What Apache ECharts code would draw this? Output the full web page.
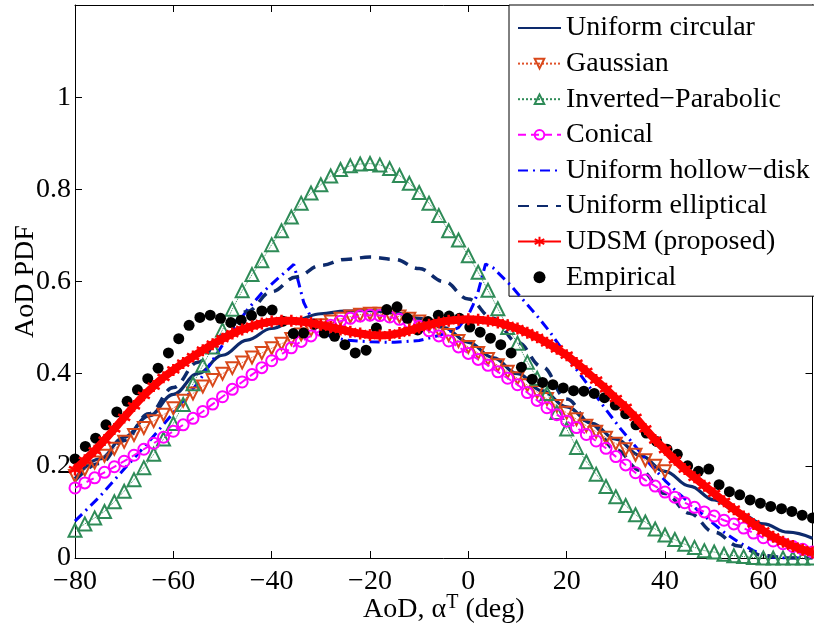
<!DOCTYPE html>
<html>
<head>
<meta charset="utf-8">
<script src="https://cdn.jsdelivr.net/npm/echarts@6/dist/echarts.min.js"></script>
<style>
  html, body { margin: 0; padding: 0; background: #fff; }
  #chart { width: 814px; height: 626px; }
</style>
</head>
<body>
<div id="chart"></div>
<script>
// Angle grids (deg)
const angleFine = [-80,-78,-76,-74,-72,-70,-68,-66,-64,-62,-60,-58,-56,-54,-52,-50,-48,-46,-44,-42,-40,-38,-36,-34,-32,-30,-28,-26,-24,-22,-20,-18,-16,-14,-12,-10,-8,-6,-4,-2,0,2,4,6,8,10,12,14,16,18,20,22,24,26,28,30,32,34,36,38,40,42,44,46,48,50,52,54,56,58,60,62,64,66,68,70];
const angleCoarse = [-80,-75,-70,-65,-60,-55,-50,-45,-40,-35,-30,-25,-20,-15,-10,-5,0,5,10,15,20,25,30,35,40,45,50,55,60,65,70];
const angleGauss = [-80,-78,-76,-74,-72,-70,-68,-66,-64,-62,-60,-58,-56,-54,-52,-50,-48,-46,-44,-42,-40,-38,-36,-34,-32,-30,-28,-26,-24,-22,-20,-18,-16,-14,-12,-10,-8,-6,-4,-2,0,2,4,6,8,10,12,14,16,18,20,22,24,26,28,30,32,34,36,38,40];

// Model PDFs
const uniformCircular = [0.172,0.215,0.262,0.308,0.355,0.400,0.440,0.473,0.498,0.517,0.530,0.536,0.537,0.532,0.520,0.500,0.468,0.435,0.400,0.363,0.328,0.293,0.258,0.222,0.188,0.156,0.126,0.098,0.074,0.056,0.043];

const gaussian = [0.178,0.192,0.207,0.222,0.237,0.252,0.267,0.282,0.297,0.311,0.325,0.341,0.357,0.372,0.386,0.400,0.412,0.424,0.435,0.445,0.455,0.465,0.475,0.485,0.495,0.505,0.513,0.519,0.524,0.528,0.530,0.530,0.528,0.524,0.519,0.513,0.504,0.495,0.484,0.471,0.458,0.445,0.432,0.418,0.404,0.390,0.375,0.360,0.345,0.330,0.315,0.301,0.287,0.274,0.261,0.248,0.236,0.224,0.212,0.200,0.188];

const invertedParabolic = [0.060,0.074,0.087,0.101,0.122,0.145,0.170,0.196,0.225,0.258,0.292,0.333,0.378,0.418,0.458,0.495,0.540,0.580,0.615,0.645,0.680,0.710,0.740,0.770,0.792,0.810,0.829,0.843,0.851,0.855,0.856,0.853,0.845,0.830,0.813,0.793,0.770,0.743,0.710,0.690,0.656,0.620,0.581,0.541,0.500,0.466,0.425,0.390,0.357,0.316,0.280,0.240,0.209,0.182,0.155,0.133,0.114,0.094,0.078,0.063,0.050,0.040,0.030,0.023,0.016,0.013,0.008,0.005,0.003,0.001,0,0,0,0,0,0];

const conical = [0.152,0.163,0.174,0.186,0.198,0.210,0.223,0.236,0.249,0.262,0.275,0.289,0.303,0.318,0.334,0.350,0.366,0.382,0.398,0.413,0.428,0.442,0.456,0.470,0.482,0.494,0.505,0.514,0.520,0.525,0.527,0.526,0.523,0.518,0.511,0.503,0.493,0.482,0.471,0.458,0.444,0.431,0.418,0.404,0.390,0.376,0.359,0.342,0.326,0.311,0.297,0.283,0.268,0.254,0.238,0.220,0.202,0.185,0.169,0.156,0.143,0.132,0.120,0.110,0.100,0.091,0.082,0.074,0.065,0.054,0.044,0.037,0.031,0.025,0.019,0.013];

const hollowDiskAngle = [-80,-75,-70,-65,-60,-55,-50,-45,-42,-39,-35.5,-34.5,-33.5,-32,-30.5,-28,-25,-20,-15,-10,-7,-4.5,-2,0,1,2,3.5,5,8.5,11,14,16.5,19,22,25,28,31,34,37,40,43,46,49,52,55,58,61,63,70];
const hollowDisk = [0.080,0.133,0.193,0.252,0.315,0.380,0.462,0.538,0.575,0.604,0.637,0.597,0.555,0.522,0.496,0.481,0.473,0.469,0.468,0.472,0.480,0.488,0.500,0.527,0.550,0.578,0.638,0.630,0.593,0.562,0.525,0.492,0.454,0.409,0.366,0.322,0.280,0.242,0.203,0.168,0.138,0.110,0.082,0.056,0.034,0.016,0.004,0,0];

const uniformElliptical = [0.168,0.205,0.255,0.313,0.370,0.425,0.483,0.535,0.578,0.610,0.635,0.648,0.653,0.648,0.628,0.600,0.562,0.520,0.468,0.415,0.345,0.290,0.235,0.190,0.140,0.097,0.056,0.026,0.005,0,0];

const udsm = [0.192,0.212,0.233,0.256,0.280,0.305,0.330,0.353,0.373,0.392,0.408,0.423,0.437,0.451,0.464,0.476,0.487,0.496,0.503,0.509,0.513,0.515,0.515,0.513,0.510,0.506,0.501,0.496,0.491,0.487,0.484,0.483,0.484,0.488,0.494,0.500,0.506,0.511,0.515,0.517,0.518,0.517,0.515,0.511,0.505,0.498,0.489,0.479,0.467,0.454,0.440,0.423,0.405,0.386,0.367,0.346,0.327,0.305,0.280,0.256,0.235,0.213,0.193,0.175,0.157,0.140,0.123,0.106,0.090,0.074,0.059,0.046,0.035,0.026,0.018,0.012];

// Measured samples
const empiricalAngle = [-80.0,-77.9,-75.8,-73.7,-71.5,-69.4,-67.3,-65.2,-63.1,-61.0,-58.9,-56.8,-54.6,-52.5,-50.4,-48.3,-46.2,-44.1,-42.0,-39.9,-37.7,-35.6,-33.5,-31.4,-29.3,-27.2,-25.1,-23.0,-20.8,-18.7,-16.6,-14.5,-12.4,-10.3,-8.2,-6.1,-3.9,-1.8,0.3,2.4,4.5,6.6,8.7,10.8,13.0,15.1,17.2,19.3,21.4,23.5,25.6,27.7,29.9,32.0,34.1,36.2,38.3,40.4,42.5,44.6,46.8,48.9,51.0,53.1,55.2,57.3,59.4,61.5,63.7,65.8,67.9,70.0];
const empirical = [0.215,0.242,0.260,0.289,0.317,0.340,0.365,0.389,0.412,0.445,0.476,0.505,0.522,0.527,0.520,0.511,0.516,0.526,0.536,0.538,0.514,0.487,0.488,0.507,0.488,0.481,0.463,0.445,0.451,0.499,0.539,0.545,0.520,0.495,0.513,0.527,0.525,0.520,0.501,0.490,0.477,0.463,0.445,0.414,0.388,0.381,0.376,0.369,0.363,0.362,0.357,0.348,0.332,0.313,0.289,0.271,0.253,0.236,0.225,0.200,0.188,0.193,0.159,0.144,0.137,0.126,0.119,0.112,0.107,0.101,0.093,0.087];

// Axis ticks
const xTicks = { min: -80, max: 70, step: 20 };
const yTicks = { min: 0, max: 1.2, step: 0.2 };

const pairs = (xs, ys) => xs.map((x, i) => [x, ys[i]]);
const SERIF = "'Liberation Serif', 'Times New Roman', 'DejaVu Serif', serif";
const NAVY = '#0d2a6c';
const ASTERISK = 'path://M0,-6L0,6M-5.2,-3L5.2,3M-5.2,3L5.2,-3';
const minus = s => String(s).replace('-', '\u2212');

// Plain lines: keep a symbol type for the legend but make it invisible
const hiddenSymbol = { symbol: 'circle', showSymbol: false };

const chart = echarts.init(document.getElementById('chart'), null, { renderer: 'canvas' });

const baseX = {
  type: 'value', min: xTicks.min, max: xTicks.max, interval: xTicks.step,
  splitLine: { show: false },
  axisLine: { onZero: false, lineStyle: { color: '#000', width: 1 } },
  axisTick: { inside: true, length: 7, lineStyle: { color: '#000' } }
};
const baseY = {
  type: 'value', min: yTicks.min, max: yTicks.max, interval: yTicks.step,
  splitLine: { show: false },
  axisLine: { onZero: false, lineStyle: { color: '#000', width: 1 } },
  axisTick: { inside: true, length: 7, lineStyle: { color: '#000' } }
};

chart.setOption({
  backgroundColor: '#fff',
  animation: false,
  textStyle: { fontFamily: SERIF },
  grid: { left: 75, right: 1.5, top: 5, bottom: 68, containLabel: false, outerBoundsMode: 'none' },
  xAxis: [
    Object.assign({}, baseX, {
      position: 'bottom',
      name: '{t|AoD, \u03b1}{s|T}{t| (deg)}',
      nameLocation: 'middle',
      nameGap: 35,
      nameMoveOverlap: false,
      nameTextStyle: {
        rich: {
          t: { fontFamily: SERIF, fontSize: 28, color: '#000', lineHeight: 34 },
          s: { fontFamily: SERIF, fontSize: 20, color: '#000', verticalAlign: 'top', lineHeight: 20 }
        }
      },
      axisLabel: {
        fontFamily: SERIF, fontSize: 28, color: '#000', margin: 10, hideOverlap: false,
        formatter: v => (v === xTicks.max ? '' : minus(v))
      }
    }),
    Object.assign({}, baseX, { position: 'top', axisLabel: { show: false } })
  ],
  yAxis: [
    Object.assign({}, baseY, {
      position: 'left',
      name: 'AoD PDF',
      nameLocation: 'middle',
      nameGap: 35,
      nameMoveOverlap: false,
      nameRotate: 90,
      nameTextStyle: { fontFamily: SERIF, fontSize: 28, color: '#000' },
      axisLabel: {
        fontFamily: SERIF, fontSize: 28, color: '#000', margin: 4, hideOverlap: false,
        formatter: v => (v > 1.1 ? '' : String(Math.round(v * 10) / 10))
      }
    }),
    Object.assign({}, baseY, { position: 'right', axisLabel: { show: false } })
  ],
  legend: {
    orient: 'vertical',
    left: 509, top: 5,
    padding: [9, 5, 5, 8],
    itemGap: 7.6,
    itemWidth: 43,
    itemHeight: 12,
    backgroundColor: '#fff',
    borderColor: '#000',
    borderWidth: 1,
    borderRadius: 0,
    textStyle: { fontFamily: SERIF, fontSize: 28, color: '#000', lineHeight: 28 },
    data: ['Uniform circular', 'Gaussian', 'Inverted\u2212Parabolic', 'Conical',
           'Uniform hollow\u2212disk', 'Uniform elliptical', 'UDSM (proposed)', 'Empirical']
  },
  series: [
    Object.assign({
      name: 'Uniform circular', type: 'line', z: 3,
      data: pairs(angleCoarse, uniformCircular),
      smooth: 0.4, smoothMonotone: 'x',
      lineStyle: { color: NAVY, width: 3.2 }, itemStyle: { color: NAVY, opacity: 0 }
    }, hiddenSymbol),
    {
      name: 'Gaussian', type: 'line', z: 4,
      data: pairs(angleGauss, gaussian),
      symbol: 'triangle', symbolRotate: 180, symbolSize: 12, showAllSymbol: true,
      lineStyle: { color: '#e0522a', width: 1, type: 'dotted' },
      itemStyle: { color: 'rgba(0,0,0,0)', borderColor: '#d9481a', borderWidth: 2 }
    },
    {
      name: 'Inverted\u2212Parabolic', type: 'line', z: 4,
      data: pairs(angleFine, invertedParabolic),
      symbol: 'triangle', symbolSize: 13, showAllSymbol: true,
      lineStyle: { color: '#2e8b57', width: 1, type: 'dotted' },
      itemStyle: { color: 'rgba(0,0,0,0)', borderColor: '#2e8b57', borderWidth: 2 }
    },
    {
      name: 'Conical', type: 'line', z: 5,
      data: pairs(angleFine, conical),
      symbol: 'circle', symbolSize: 11, showAllSymbol: true,
      lineStyle: { color: '#ff00ff', width: 2, type: [8, 5] },
      itemStyle: { color: 'rgba(0,0,0,0)', borderColor: '#ff00ff', borderWidth: 2 }
    },
    Object.assign({
      name: 'Uniform hollow\u2212disk', type: 'line', z: 4,
      data: pairs(hollowDiskAngle, hollowDisk),
      lineStyle: { color: '#0000ff', width: 3, type: [10, 5, 2, 5] },
      itemStyle: { color: '#0000ff', opacity: 0 }
    }, hiddenSymbol),
    Object.assign({
      name: 'Uniform elliptical', type: 'line', z: 4,
      data: pairs(angleCoarse, uniformElliptical),
      smooth: 0.4, smoothMonotone: 'x',
      lineStyle: { color: NAVY, width: 3.5, type: [11, 8] },
      itemStyle: { color: NAVY, opacity: 0 }
    }, hiddenSymbol),
    {
      name: 'UDSM (proposed)', type: 'line', z: 7,
      data: pairs(angleFine, udsm),
      symbol: ASTERISK, symbolSize: 12, showAllSymbol: true,
      lineStyle: { color: '#ff0000', width: 8 },
      itemStyle: { color: '#ff0000', borderColor: '#ff0000', borderWidth: 2.5 }
    },
    {
      name: 'Empirical', type: 'scatter', z: 6,
      data: pairs(empiricalAngle, empirical),
      symbol: 'circle', symbolSize: 11,
      itemStyle: { color: '#000', opacity: 1 }
    }
  ]
});
</script>
</body>
</html>
